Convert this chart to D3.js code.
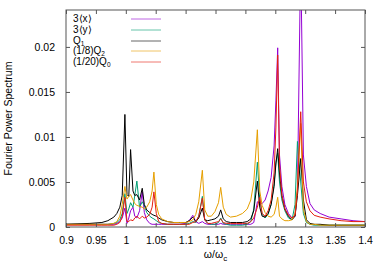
<!DOCTYPE html>
<html>
<head>
<meta charset="utf-8">
<script src="https://cdn.jsdelivr.net/npm/d3@7"></script>
<style>
  body { margin: 0; background: #fff; }
  svg text { font-family: "Liberation Sans", Arial, sans-serif; font-size: 10.5px; fill: #000; }
</style>
</head>
<body>
<svg id="chart" width="390" height="273"></svg>
<script>
// frequency grid (omega / omega_c)
var freq = [
  0.9, 0.92, 0.94, 0.96, 0.97, 0.98, 0.985, 0.99, 0.994, 0.9985,
  1.002, 1.005, 1.008, 1.012, 1.015, 1.0185, 1.023, 1.0275, 1.031, 1.035,
  1.04, 1.044, 1.047, 1.051, 1.055, 1.06, 1.07, 1.08, 1.09, 1.1,
  1.106, 1.112, 1.117, 1.122, 1.128, 1.132, 1.137, 1.143, 1.149, 1.155,
  1.1587, 1.163, 1.168, 1.175, 1.185, 1.195, 1.203, 1.209, 1.214, 1.22,
  1.224, 1.228, 1.233, 1.238, 1.243, 1.248, 1.251, 1.254, 1.257, 1.261,
  1.266, 1.272, 1.278, 1.283, 1.287, 1.2925, 1.297, 1.302, 1.308, 1.315,
  1.325, 1.34, 1.36, 1.38, 1.4
];

var sx = [
  0.0003, 0.0003, 0.0003, 0.0003, 0.0003, 0.0003, 0.0004, 0.0006, 0.0010, 0.0021,
  0.0004, 0.0010, 0.0018, 0.0022, 0.0012, 0.0010, 0.0018, 0.0039, 0.0016, 0.0008,
  0.0004, 0.0003, 0.0003, 0.0003, 0.0003, 0.0003, 0.0003, 0.0003, 0.0003, 0.0004,
  0.0007, 0.0013, 0.0006, 0.0004, 0.0006, 0.0004, 0.0003, 0.0003, 0.0003, 0.0003,
  0.0004, 0.0003, 0.0003, 0.0003, 0.0003, 0.0003, 0.0003, 0.0003, 0.0005, 0.0028,
  0.0027, 0.0026, 0.0030, 0.0040, 0.0055, 0.0090, 0.0140, 0.0199, 0.0080, 0.0045,
  0.0025, 0.0015, 0.0010, 0.0012, 0.0040, 0.0300, 0.0080, 0.0045, 0.0026, 0.0019,
  0.0015, 0.0011, 0.0009, 0.0007, 0.0006
];

var sy = [
  0.0003, 0.0003, 0.0003, 0.0003, 0.0003, 0.0004, 0.0005, 0.0008, 0.0015, 0.0037,
  0.0015, 0.0020, 0.0027, 0.0022, 0.0035, 0.0051, 0.0022, 0.0028, 0.0024, 0.0016,
  0.0012, 0.0010, 0.0009, 0.0007, 0.0005, 0.0004, 0.0003, 0.0003, 0.0003, 0.0003,
  0.0004, 0.0006, 0.0005, 0.0012, 0.0034, 0.0008, 0.0004, 0.0003, 0.0003, 0.0005,
  0.0010, 0.0004, 0.0003, 0.0002, 0.0002, 0.0002, 0.0003, 0.0006, 0.0020, 0.0072,
  0.0030, 0.0014, 0.0010, 0.0014, 0.0025, 0.0048, 0.0072, 0.0082, 0.0050, 0.0030,
  0.0018, 0.0010, 0.0008, 0.0025, 0.0095, 0.0050, 0.0015, 0.0005, 0.0003, 0.0002,
  0.0002, 0.0002, 0.0002, 0.0002, 0.0002
];

var q1 = [
  0.0003, 0.00035, 0.0004, 0.0005, 0.0007, 0.0011, 0.0015, 0.0022, 0.0035, 0.0125,
  0.0036, 0.0034, 0.0086, 0.0040, 0.0035, 0.0036, 0.0030, 0.0043, 0.0025, 0.0019,
  0.0016, 0.0014, 0.0013, 0.0012, 0.0010, 0.0008, 0.0006, 0.0005, 0.0005, 0.0005,
  0.0007, 0.0011, 0.0006, 0.0010, 0.0021, 0.0008, 0.0007, 0.0008, 0.0009, 0.0012,
  0.0019, 0.0009, 0.0006, 0.0005, 0.0005, 0.0005, 0.0006, 0.0009, 0.0018, 0.0051,
  0.0022, 0.0012, 0.0011, 0.0015, 0.0025, 0.0045, 0.0070, 0.0087, 0.0060, 0.0035,
  0.0020, 0.0012, 0.0008, 0.0012, 0.0035, 0.0076, 0.0030, 0.0008, 0.0004, 0.0003,
  0.0003, 0.0002, 0.0002, 0.0002, 0.0002
];

var q2 = [
  0.0003, 0.0003, 0.0003, 0.0003, 0.0003, 0.0004, 0.0006, 0.0012, 0.0025, 0.0045,
  0.0031, 0.0034, 0.0036, 0.0030, 0.0026, 0.0024, 0.0023, 0.0022, 0.0020, 0.0022,
  0.0028, 0.0040, 0.0061, 0.0025, 0.0014, 0.0009, 0.0006, 0.0005, 0.0005, 0.0005,
  0.0006, 0.0008, 0.0014, 0.0028, 0.0063, 0.0019, 0.0012, 0.0012, 0.0017, 0.0027,
  0.0044, 0.0022, 0.0014, 0.0011, 0.0012, 0.0015, 0.0020, 0.0030, 0.0050, 0.0108,
  0.0040, 0.0024, 0.0016, 0.0012, 0.0011, 0.0014, 0.0022, 0.0033, 0.0012, 0.0009,
  0.0007, 0.0007, 0.0008, 0.0015, 0.0045, 0.0115, 0.0020, 0.0006, 0.0003, 0.0003,
  0.0002, 0.0002, 0.0002, 0.0002, 0.0002
];

var q0 = [
  0.0002, 0.0002, 0.0002, 0.0002, 0.0002, 0.0002, 0.0003, 0.0005, 0.0012, 0.0033,
  0.0006, 0.0006, 0.0008, 0.0007, 0.0010, 0.0012, 0.0009, 0.0012, 0.0010, 0.0011,
  0.0014, 0.0022, 0.0039, 0.0015, 0.0006, 0.0004, 0.0003, 0.0003, 0.0003, 0.0003,
  0.0003, 0.0005, 0.0006, 0.0012, 0.0032, 0.0008, 0.0004, 0.0004, 0.0005, 0.0006,
  0.0009, 0.0005, 0.0004, 0.0004, 0.0004, 0.0004, 0.0004, 0.0006, 0.0010, 0.0022,
  0.0033, 0.0015, 0.0012, 0.0018, 0.0030, 0.0060, 0.0110, 0.0191, 0.0070, 0.0035,
  0.0020, 0.0013, 0.0010, 0.0013, 0.0040, 0.0128, 0.0050, 0.0028, 0.0018, 0.0013,
  0.0011, 0.0009, 0.0007, 0.0006, 0.0006
];

// legend: main text, subscript
var seriesNames = [["3\u27E8x\u27E9", ""], ["3\u27E8y\u27E9", ""], ["Q", "1"], ["(1/8)Q", "2"], ["(1/20)Q", "0"]];
var seriesValues = [sx, sy, q1, q2, q0];
var seriesColors = ["#9400d3", "#009e73", "#000000", "#e69f00", "#e51e10"];

var xTicks = [0.9, 0.95, 1, 1.05, 1.1, 1.15, 1.2, 1.25, 1.3, 1.35, 1.4];
var yTicks = [0, 0.005, 0.01, 0.015, 0.02];

var margin = {top: 10, right: 25, bottom: 46, left: 66};
var width = 390 - margin.left - margin.right;
var height = 273 - margin.top - margin.bottom;

var svg = d3.select("#chart");
var g = svg.append("g").attr("transform", "translate(" + margin.left + "," + margin.top + ")");

var x = d3.scaleLinear().domain([0.9, 1.4]).range([0, width]);
var y = d3.scaleLinear().domain([0, 0.0241]).range([height, 0]);

g.append("clipPath").attr("id", "clip")
  .append("rect").attr("width", width).attr("height", height);

// curves
var line = d3.line()
  .x(function(d) { return x(d[0]); })
  .y(function(d) { return y(d[1]); });

var curves = g.append("g").attr("clip-path", "url(#clip)");
for (var i = 0; i < seriesValues.length; i++) {
  var pts = freq.map(function(f, j) { return [f, seriesValues[i][j]]; });
  curves.append("path")
    .datum(pts)
    .attr("fill", "none")
    .attr("stroke", seriesColors[i])
    .attr("stroke-width", 1)
    .attr("stroke-linejoin", "round")
    .attr("d", line);
}

// axes, gnuplot style: ticks inward and mirrored
var fmt = function(d) { return d3.format("")(+d.toFixed(3)); };

var xAxis = g.append("g").attr("transform", "translate(0," + height + ")")
  .call(d3.axisBottom(x).tickValues(xTicks).tickSize(-4).tickPadding(10).tickFormat(fmt));
var xTop = g.append("g")
  .call(d3.axisTop(x).tickValues(xTicks).tickSize(-4).tickFormat(""));
var yAxis = g.append("g")
  .call(d3.axisLeft(y).tickValues(yTicks).tickSize(-4).tickPadding(11).tickFormat(fmt));
var yRight = g.append("g").attr("transform", "translate(" + width + ",0)")
  .call(d3.axisRight(y).tickValues(yTicks).tickSize(-4).tickFormat(""));

[xAxis, xTop, yAxis, yRight].forEach(function(a) {
  a.select(".domain").remove();
  a.selectAll(".tick line").attr("stroke", "#555");
  a.selectAll("text").attr("font-size", null).attr("font-family", null);
});

g.append("rect")
  .attr("x", 0).attr("y", 0)
  .attr("width", width).attr("height", height)
  .attr("fill", "none")
  .attr("stroke", "#555")
  .attr("stroke-width", 1);

// axis titles
var xt = svg.append("text")
  .attr("x", margin.left + width / 2)
  .attr("y", 258)
  .attr("text-anchor", "middle");
xt.append("tspan").text("\u03C9/\u03C9");
xt.append("tspan").attr("dy", 3).attr("font-size", "8px").text("c");

svg.append("text")
  .attr("transform", "translate(12," + (margin.top + height / 2) + ") rotate(-90)")
  .attr("text-anchor", "middle")
  .text("Fourier Power Spectrum");

// legend
var legend = g.append("g");
for (var k = 0; k < seriesNames.length; k++) {
  var ly = 9 + Math.round(k * 10.8);
  var t = legend.append("text")
    .attr("x", 7)
    .attr("y", ly + 3.4)
    .style("font-size", "10px");
  t.append("tspan").text(seriesNames[k][0]);
  if (seriesNames[k][1]) {
    t.append("tspan").attr("dy", 1.5).style("font-size", "6.5px").text(seriesNames[k][1]);
  }
  legend.append("line")
    .attr("x1", 65).attr("x2", 95)
    .attr("y1", ly).attr("y2", ly)
    .attr("stroke", seriesColors[k])
    .attr("stroke-opacity", 0.6)
    .attr("stroke-width", 1);
}
</script>
</body>
</html>
